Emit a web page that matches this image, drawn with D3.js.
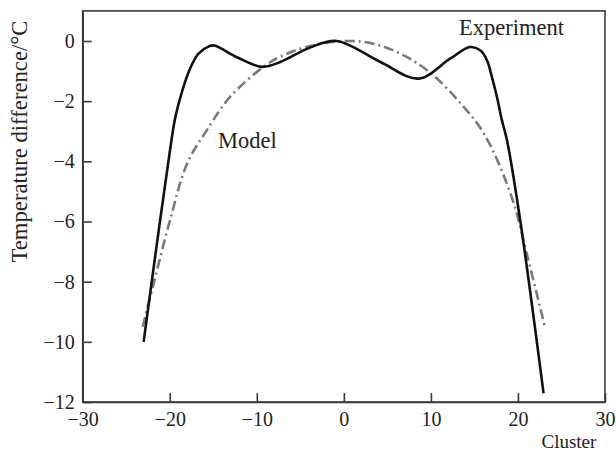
<!DOCTYPE html>
<html><head><meta charset="utf-8">
<script src="https://cdn.jsdelivr.net/npm/d3@7"></script>
<style>
html,body{margin:0;padding:0;background:#fff;}
svg{display:block;}
text{font-family:"Liberation Serif","Times New Roman",serif;fill:#222;}
</style></head>
<body>
<svg id="chart" width="616" height="457"></svg>
<script>
// Data
const experimentX = [-23, -21.6, -20.16, -19.39, -18.6, -17.67, -16.7, -15.5, -14.9, -12.2, -9.43, -7.3, -3.9, -0.8, 4.2, 8.57, 12.2, 14.5, 15.67, 16.44, 17.01, 17.59, 18.16, 18.74, 20.26, 22.94];
const experimentY = [-10, -7, -4.02, -2.58, -1.69, -0.92, -0.42, -0.18, -0.15, -0.55, -0.86, -0.7, -0.22, 0, -0.7, -1.25, -0.59, -0.2, -0.31, -0.64, -1.2, -1.86, -2.64, -3.3, -5.96, -11.71];
const modelX = [-23.1, -21.8, -19.97, -18, -15.75, -13.07, -9.24, -7.3, -3.8, 0.5, 3.5, 6.7, 9.9, 13.2, 16.2, 19.4, 21, 23.1];
const modelY = [-9.5, -8, -5.96, -4.07, -2.97, -1.86, -0.86, -0.52, -0.16, 0, -0.1, -0.45, -1.05, -2.0, -3.13, -5.29, -7.06, -9.5];
const xTicks = [-30, -20, -10, 0, 10, 20, 30];
const yTicks = [-12, -10, -8, -6, -4, -2, 0];
const xLabel = "Cluster";
const yLabel = "Temperature difference/°C";
const seriesNames = ["Experiment", "Model"];

const svg = d3.select("#chart");
const L = 82.7, R = 605, T = 10.9, B = 402;
const x = d3.scaleLinear().domain([-30, 30]).range([L, R]);
const y = d3.scaleLinear().domain([-12, 1]).range([B, T]);
const axisColor = "#3a3a3a";

// frame
svg.append("rect").attr("x", L).attr("y", T).attr("width", R - L).attr("height", B - T)
  .attr("fill", "none").attr("stroke", axisColor).attr("stroke-width", 1.6);

const fmt = d => d < 0 ? "\u2212" + Math.abs(d) : String(d);

const xAxis = svg.append("g").attr("transform", `translate(0,${B})`)
  .call(d3.axisBottom(x).tickValues(xTicks).tickFormat(fmt).tickSizeInner(-9).tickSizeOuter(0).tickPadding(10));
const yAxis = svg.append("g").attr("transform", `translate(${L},0)`)
  .call(d3.axisLeft(y).tickValues(yTicks).tickFormat(fmt).tickSizeInner(-9).tickSizeOuter(0).tickPadding(8));
[xAxis, yAxis].forEach(g => {
  g.select(".domain").attr("stroke", axisColor).attr("stroke-width", 1.6);
  g.selectAll(".tick line").attr("stroke", axisColor).attr("stroke-width", 1.6);
  g.selectAll(".tick text").attr("font-family", "Liberation Serif").attr("font-size", 20).attr("fill", "#222");
});

const line = d3.line().x(d => x(d[0])).y(d => y(d[1])).curve(d3.curveCatmullRom.alpha(0.5));

svg.append("path").datum(modelX.map((v, i) => [v, modelY[i]]))
  .attr("d", line).attr("fill", "none").attr("stroke", "#7a7a7a").attr("stroke-width", 2.6)
  .attr("stroke-dasharray", "10,4,2,4");

svg.append("path").datum(experimentX.map((v, i) => [v, experimentY[i]]))
  .attr("d", line).attr("fill", "none").attr("stroke", "#111").attr("stroke-width", 2.6)
  .attr("stroke-linejoin", "round");

// labels
svg.append("text").attr("x", 459).attr("y", 35).attr("font-size", 22.5).text(seriesNames[0]);
svg.append("text").attr("x", 218).attr("y", 148).attr("font-size", 22.5).text(seriesNames[1]);
svg.append("text").attr("x", 541.5).attr("y", 448).attr("font-size", 19).text(xLabel);
svg.append("text").attr("transform", "translate(27,141.5) rotate(-90)").attr("text-anchor", "middle")
  .attr("font-size", 22.7).text(yLabel);
</script>
</body></html>
